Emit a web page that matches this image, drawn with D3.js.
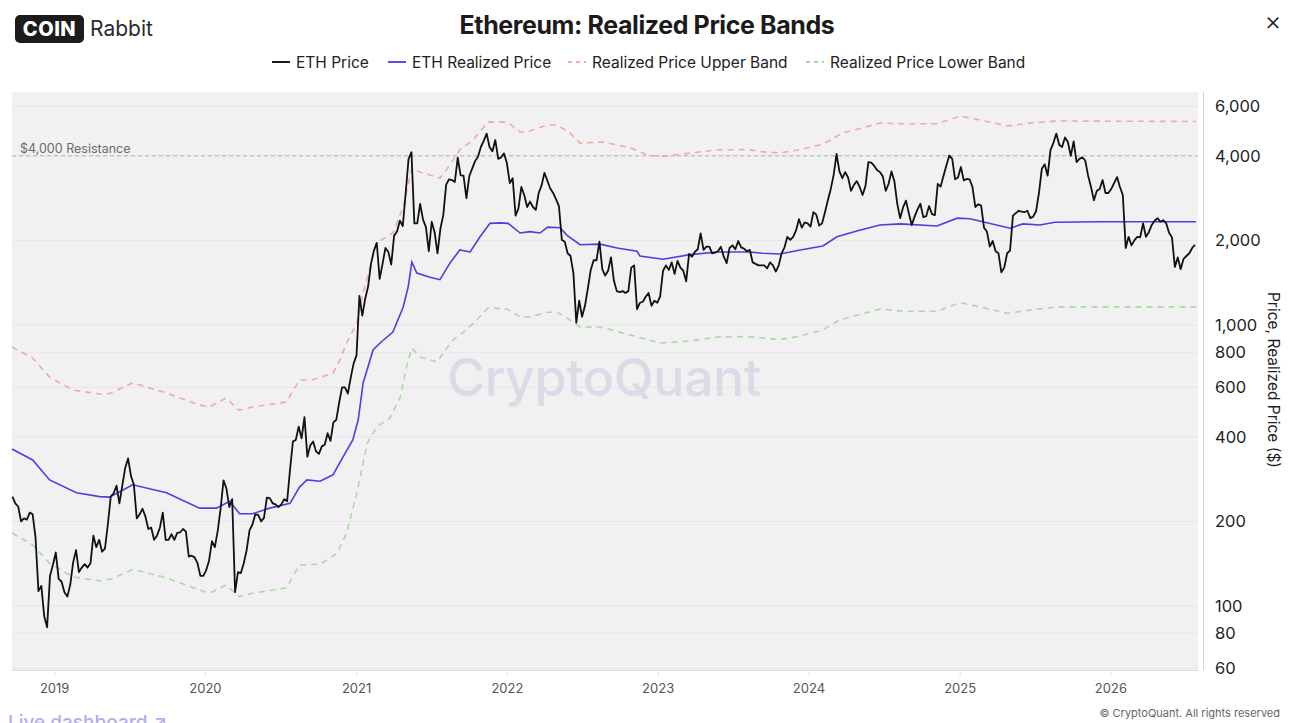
<!DOCTYPE html>
<html>
<head>
<meta charset="utf-8">
<script src="https://cdn.jsdelivr.net/npm/d3@7"></script>
<style>
  body { margin: 0; background: #fff; font-family: Inter, "Noto Sans", sans-serif; }
  svg { display: block; }
</style>
</head>
<body>
<svg id="chart" width="1300" height="723"></svg>
<script>
// ---- data ----
// weekly ETH close, each year's list starts on the date in priceStarts
const priceStarts = ["2018-09-22", "2019-01-05", "2020-01-04", "2021-01-02", "2022-01-01",
                     "2023-01-07", "2024-01-06", "2025-01-04", "2026-01-03"];
const eth2018 = [245, 232, 226, 200, 205, 203, 215, 212, 175, 113, 118, 92, 84, 128, 140];
const eth2019 = [155, 125, 122, 112, 108, 119, 143, 158, 132, 137, 141, 137, 142, 178, 162, 172,
                 156, 160, 195, 245, 252, 268, 232, 268, 310, 335, 290, 270, 205, 212, 222, 208,
                 188, 190, 172, 178, 190, 215, 172, 172, 180, 172, 182, 183, 188, 184, 150, 151,
                 149, 142, 128, 128];
const eth2020 = [134, 145, 170, 162, 185, 222, 280, 262, 225, 240, 112, 132, 131, 142, 158, 186,
                 195, 212, 211, 200, 206, 243, 242, 232, 230, 225, 230, 240, 236, 305, 385, 390,
                 435, 395, 470, 340, 373, 385, 355, 348, 370, 375, 412, 387, 450, 460, 530, 600,
                 600, 570, 650, 730];
const eth2021 = [780, 1270, 1080, 1240, 1370, 1650, 1840, 1960, 1460, 1650, 1880, 1820, 1640, 2080,
                 2150, 2350, 2250, 2950, 3900, 4120, 2300, 2300, 2700, 2370, 2230, 1830, 2330, 2140,
                 1800, 2200, 2460, 3160, 3300, 3280, 3230, 3940, 3410, 3400, 2830, 3390, 3600, 3830,
                 3970, 4300, 4520, 4800, 4300, 4150, 4550, 3900, 3950, 4080];
const eth2022 = [3770, 3200, 3330, 2450, 2600, 3100, 2900, 2630, 2750, 2630, 2570, 2950, 3140,
                 3480, 3260, 3060, 2950, 2800, 2650, 2010, 1980, 1800, 1760, 1530, 1020, 1220,
                 1070, 1170, 1350, 1570, 1700, 1700, 1980, 1580, 1500, 1560, 1740, 1440, 1320,
                 1310, 1320, 1300, 1320, 1600, 1630, 1140, 1200, 1210, 1260, 1300, 1170, 1220, 1200];
const eth2023 = [1265, 1560, 1630, 1570, 1670, 1520, 1690, 1600, 1560, 1430, 1790, 1750, 1820,
                 1860, 2120, 1850, 1900, 1900, 1800, 1810, 1830, 1900, 1750, 1660, 1880, 1920,
                 1860, 1990, 1890, 1870, 1830, 1850, 1670, 1650, 1630, 1630, 1630, 1590, 1670,
                 1630, 1550, 1630, 1800, 1890, 2060, 2010, 2060, 2170, 2380, 2220, 2320, 2300];
const eth2024 = [2240, 2520, 2470, 2260, 2300, 2520, 2780, 3050, 3420, 4060, 3520, 3330, 3500,
                 3350, 3000, 3150, 3250, 3100, 2900, 3120, 3800, 3780, 3690, 3560, 3500, 3380,
                 3000, 3180, 3520, 3250, 2700, 2400, 2620, 2770, 2500, 2270, 2430, 2580, 2700,
                 2420, 2440, 2650, 2480, 2460, 3180, 3110, 3400, 3700, 4010, 3900, 3300, 3350];
const eth2025 = [3650, 3270, 3310, 3300, 3100, 2630, 2690, 2660, 2220, 2150, 1900, 1990, 1830,
                 1800, 1540, 1600, 1800, 1840, 2450, 2500, 2550, 2530, 2520, 2550, 2400, 2430,
                 2540, 2950, 3600, 3730, 3400, 4200, 4450, 4800, 4380, 4300, 4650, 4480, 4000,
                 4500, 3800, 3900, 3950, 3850, 3400, 3100, 2780, 3000, 3050, 3280, 2950, 2950];
const eth2026 = [3050, 3200, 3360, 3100, 2900, 1880, 2060, 1920, 2000, 2060, 2050, 2300, 2060,
                 2140, 2270, 2350, 2400, 2330, 2360, 2300, 2130, 2050, 1610, 1740, 1580, 1720,
                 1760, 1800, 1880, 1930];

const realizedDates = ["2018-09-21", "2018-11-10", "2018-12-21", "2019-02-24", "2019-04-21", "2019-05-15",
  "2019-07-10", "2019-09-30", "2019-12-19", "2020-01-29", "2020-03-01", "2020-03-25", "2020-04-25",
  "2020-06-06", "2020-07-25", "2020-08-17", "2020-09-04", "2020-10-06", "2020-11-06", "2020-11-30",
  "2020-12-24", "2021-01-06", "2021-01-18", "2021-02-11", "2021-02-28", "2021-03-31", "2021-04-25",
  "2021-05-07", "2021-05-16", "2021-05-28", "2021-06-29", "2021-07-23", "2021-08-16", "2021-09-09",
  "2021-10-04", "2021-10-28", "2021-11-21", "2021-12-15", "2022-01-04", "2022-02-02", "2022-02-26",
  "2022-03-22", "2022-04-10", "2022-05-10", "2022-05-26", "2022-06-27", "2022-08-14", "2022-09-25",
  "2022-11-12", "2022-11-19", "2023-01-14", "2023-03-20", "2023-05-25", "2023-08-12", "2023-09-13",
  "2023-10-24", "2023-12-12", "2024-02-05", "2024-03-10", "2024-04-27", "2024-06-22", "2024-08-10",
  "2024-11-07", "2024-12-26", "2025-01-26", "2025-03-08", "2025-05-03", "2025-06-03", "2025-07-14",
  "2025-08-20", "2025-12-07", "2026-07-27"];
const realizedValues = [362, 331, 281, 253, 245, 244, 270, 253, 223, 223, 236, 213, 213, 223, 232, 265,
  281, 278, 293, 339, 390, 459, 622, 815, 863, 944, 1159, 1365, 1675, 1530, 1480, 1450, 1660, 1850,
  1820, 2060, 2300, 2310, 2300, 2125, 2150, 2125, 2230, 2220, 2090, 1930, 1940, 1880, 1830, 1760, 1715,
  1780, 1820, 1820, 1800, 1790, 1850, 1910, 2060, 2160, 2270, 2290, 2250, 2400, 2390, 2310, 2210, 2290,
  2270, 2320, 2330, 2330];

const upperDates = ["2018-09-21", "2018-11-10", "2018-12-21", "2019-02-15", "2019-04-21", "2019-05-15",
  "2019-07-10", "2019-09-30", "2019-12-19", "2020-01-12", "2020-02-22", "2020-03-17", "2020-03-25",
  "2020-04-25", "2020-07-16", "2020-08-17", "2020-09-17", "2020-11-06", "2020-11-23", "2020-12-09",
  "2021-01-03", "2021-01-18", "2021-02-20", "2021-03-31", "2021-04-25", "2021-05-16", "2021-06-04",
  "2021-07-16", "2021-07-23", "2021-08-16", "2021-09-09", "2021-10-11", "2021-11-16", "2022-01-02",
  "2022-02-02", "2022-02-26", "2022-04-08", "2022-05-03", "2022-06-03", "2022-06-27", "2022-08-22",
  "2022-10-27", "2022-12-07", "2023-01-07", "2023-03-20", "2023-05-25", "2023-08-06", "2023-09-13",
  "2023-10-24", "2023-12-12", "2024-02-05", "2024-03-24", "2024-06-22", "2024-08-17", "2024-11-07",
  "2025-01-02", "2025-02-20", "2025-04-26", "2025-06-20", "2025-08-25", "2026-07-27"];
const upperBand = [835, 763, 653, 587, 568, 570, 622, 573, 519, 511, 550, 506, 498, 511, 532, 637, 637,
  675, 751, 863, 1016, 1300, 1960, 2125, 2630, 3620, 3500, 3360, 3330, 3710, 4200, 4555, 5270, 5270,
  4860, 4900, 5150, 5150, 4820, 4440, 4480, 4270, 4030, 3970, 4090, 4200, 4210, 4130, 4100, 4210, 4400,
  4820, 5230, 5200, 5200, 5540, 5365, 5110, 5230, 5320, 5300];

const lowerDates = ["2018-09-21", "2018-11-10", "2018-12-21", "2019-02-15", "2019-04-21", "2019-05-22",
  "2019-07-10", "2019-09-30", "2019-12-19", "2020-01-12", "2020-02-22", "2020-03-17", "2020-03-25",
  "2020-04-25", "2020-07-16", "2020-08-17", "2020-10-06", "2020-11-16", "2020-12-09", "2021-01-03",
  "2021-01-28", "2021-02-20", "2021-03-24", "2021-04-18", "2021-05-05", "2021-05-16", "2021-06-04",
  "2021-07-16", "2021-07-31", "2021-08-23", "2021-09-16", "2021-10-20", "2021-11-16", "2022-01-02",
  "2022-02-02", "2022-02-26", "2022-04-08", "2022-05-03", "2022-06-03", "2022-06-27", "2022-08-22",
  "2022-10-27", "2023-01-07", "2023-03-20", "2023-05-25", "2023-08-06", "2023-10-13", "2023-11-14",
  "2023-12-20", "2024-02-05", "2024-03-17", "2024-06-22", "2024-08-17", "2024-11-07", "2025-01-02",
  "2025-02-20", "2025-04-26", "2025-06-20", "2025-08-25", "2026-07-27"];
const lowerBand = [182, 165, 142, 127, 123, 125, 135, 126, 114, 111, 119, 110, 108, 111, 116, 140, 141,
  154, 182, 253, 380, 434, 467, 554, 732, 828, 770, 738, 795, 884, 937, 1042, 1150, 1140, 1068, 1068,
  1110, 1110, 1042, 985, 980, 921, 863, 877, 906, 910, 891, 895, 921, 960, 1042, 1140, 1120, 1120, 1200,
  1160, 1100, 1130, 1160, 1160];

const yTicks = [6000, 4000, 2000, 1000, 800, 600, 400, 200, 100, 80, 60];
const yearTicks = [2019, 2020, 2021, 2022, 2023, 2024, 2025, 2026];
const resistanceLevel = 4000;

const legendItems = [
  { label: "ETH Price", color: "#1a1a1a", dash: null },
  { label: "ETH Realized Price", color: "#5a4ee6", dash: null },
  { label: "Realized Price Upper Band", color: "#f2aaa3", dash: "4,4" },
  { label: "Realized Price Lower Band", color: "#a9d9a3", dash: "4,4" }
];

// ---- build series ----
const parse = d3.utcParse("%Y-%m-%d");
const ethYears = [eth2018, eth2019, eth2020, eth2021, eth2022, eth2023, eth2024, eth2025, eth2026];
var priceData = [];
ethYears.forEach(function(list, i){
  var start = parse(priceStarts[i]);
  list.forEach(function(v, j){
    priceData.push({ t: d3.utcDay.offset(start, j * 7), v: v });
  });
});
function pairs(dates, vals){
  return dates.map(function(d, i){ return { t: parse(d), v: vals[i] }; });
}
const realizedData = pairs(realizedDates, realizedValues);
const upperData = pairs(upperDates, upperBand);
const lowerData = pairs(lowerDates, lowerBand);

// ---- layout ----
const svg = d3.select("#chart");
const plot = { left: 12, right: 1198, top: 92, bottom: 670 };

const x = d3.scaleUtc()
  .domain([parse("2018-09-21"), parse("2026-08-01")])
  .range([plot.left, plot.right]);
const y = d3.scaleLog()
  .domain([59.2, 6748])
  .range([plot.bottom, plot.top]);

// plot background
svg.append("rect")
  .attr("x", plot.left).attr("y", plot.top)
  .attr("width", plot.right - plot.left).attr("height", plot.bottom - plot.top)
  .attr("fill", "#f1f1f1");

// horizontal grid
svg.append("g")
  .selectAll("line")
  .data(yTicks)
  .enter().append("line")
  .attr("x1", plot.left).attr("x2", plot.right)
  .attr("y1", function(d){ return y(d); }).attr("y2", function(d){ return y(d); })
  .attr("stroke", "#e6e6e6").attr("stroke-width", 1);

// watermark
svg.append("text")
  .attr("x", 604).attr("y", 396)
  .attr("text-anchor", "middle")
  .attr("font-size", 52).attr("font-weight", 500)
  .attr("fill", "#dcdae6")
  .attr("letter-spacing", "-0.5")
  .text("CryptoQuant");

// resistance line
svg.append("line")
  .attr("x1", plot.left).attr("x2", plot.right)
  .attr("y1", y(resistanceLevel)).attr("y2", y(resistanceLevel))
  .attr("stroke", "#b4b4bc").attr("stroke-width", 1).attr("stroke-dasharray", "4,3");
svg.append("text")
  .attr("x", 20).attr("y", y(resistanceLevel) - 3)
  .attr("font-size", 12.5).attr("fill", "#6b6b6b")
  .text("$4,000 Resistance");

// series
const line = d3.line()
  .x(function(d){ return x(d.t); })
  .y(function(d){ return y(d.v); });

svg.append("path").datum(upperData)
  .attr("d", line).attr("fill", "none")
  .attr("stroke", "#f0a39b").attr("stroke-width", 1.6).attr("stroke-dasharray", "6,5")
  .attr("opacity", 0.9);
svg.append("path").datum(lowerData)
  .attr("d", line).attr("fill", "none")
  .attr("stroke", "#a3d69c").attr("stroke-width", 1.6).attr("stroke-dasharray", "6,5")
  .attr("opacity", 0.9);
svg.append("path").datum(realizedData)
  .attr("d", line).attr("fill", "none")
  .attr("stroke", "#4c3fe0").attr("stroke-width", 1.6);
svg.append("path").datum(priceData)
  .attr("d", line).attr("fill", "none")
  .attr("stroke", "#111").attr("stroke-width", 1.8).attr("stroke-linejoin", "round");

// x axis
const xAxis = d3.axisBottom(x)
  .tickValues(yearTicks.map(function(yr){ return new Date(Date.UTC(yr, 0, 1)); }))
  .tickFormat(d3.utcFormat("%Y"))
  .tickSize(6).tickPadding(8);
const gx = svg.append("g")
  .attr("transform", "translate(0," + plot.bottom + ")")
  .call(xAxis);
gx.select(".domain").attr("stroke", "#dcdcdc").attr("d", "M" + plot.left + ",0.5H" + plot.right);
gx.selectAll(".tick line").attr("stroke", "#e2e2e2");
gx.selectAll(".tick text").attr("font-size", 13).attr("fill", "#555").attr("font-family", "Inter, sans-serif");

// y axis on the right
const yAxis = d3.axisRight(y)
  .tickValues(yTicks)
  .tickFormat(d3.format(","))
  .tickSize(0).tickPadding(12);
const gy = svg.append("g")
  .attr("transform", "translate(1203,0)")
  .call(yAxis);
gy.select(".domain").attr("stroke", "#d4d4dc").attr("d", "M0.5," + plot.top + "V" + plot.bottom);
gy.selectAll(".tick text").attr("font-size", 16.5).attr("fill", "#1e1e1e").attr("font-family", "Inter, sans-serif");

svg.append("text")
  .attr("transform", "translate(1268,380) rotate(90)")
  .attr("text-anchor", "middle")
  .attr("font-size", 15.5).attr("fill", "#1e1e1e")
  .text("Price, Realized Price ($)");

// title
svg.append("text")
  .attr("x", 647).attr("y", 34)
  .attr("text-anchor", "middle")
  .attr("font-size", 25).attr("font-weight", 700).attr("fill", "#1b1b1b")
  .attr("letter-spacing", "-0.4")
  .text("Ethereum: Realized Price Bands");

// legend
const legendX = [272, 388, 568, 806];
const legend = svg.append("g");
legendItems.forEach(function(item, i){
  var g = legend.append("g").attr("transform", "translate(" + legendX[i] + ",62)");
  g.append("line")
    .attr("x1", 0).attr("x2", 18).attr("y1", 0).attr("y2", 0)
    .attr("stroke", item.color).attr("stroke-width", 2)
    .attr("stroke-dasharray", item.dash);
  g.append("text")
    .attr("x", 24).attr("y", 5.5)
    .attr("font-size", 15.5).attr("fill", "#222")
    .text(item.label);
});

// logo
svg.append("rect")
  .attr("x", 15).attr("y", 15).attr("width", 69).attr("height", 28).attr("rx", 5)
  .attr("fill", "#1c1c1c");
svg.append("text")
  .attr("x", 49.5).attr("y", 36)
  .attr("text-anchor", "middle")
  .attr("font-size", 20).attr("font-weight", 800).attr("fill", "#fff")
  .attr("letter-spacing", "0.5")
  .text("COIN");
svg.append("text")
  .attr("x", 90).attr("y", 36)
  .attr("font-size", 21).attr("fill", "#2a2a2a")
  .text("Rabbit");

// close mark
svg.append("text")
  .attr("x", 1273).attr("y", 30)
  .attr("text-anchor", "middle")
  .attr("font-size", 26).attr("font-weight", 300).attr("fill", "#222")
  .text("×");

// footer (the link is cut by the bottom edge, as in the reference)
svg.append("text")
  .attr("x", 8).attr("y", 729)
  .attr("font-size", 19).attr("font-weight", 500).attr("fill", "#b4acec")
  .text("Live dashboard ↗");
svg.append("text")
  .attr("x", 1280).attr("y", 717)
  .attr("text-anchor", "end")
  .attr("font-size", 11).attr("fill", "#666")
  .text("© CryptoQuant. All rights reserved");
</script>
</body>
</html>
